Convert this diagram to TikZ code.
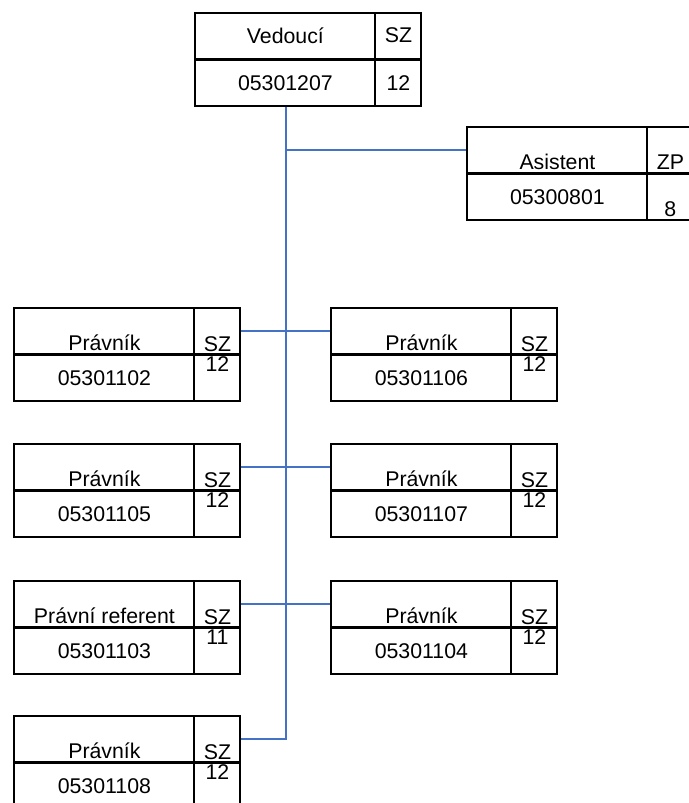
\documentclass[tikz,border=0pt]{standalone}
\usepackage{fontspec}
\setmainfont{Liberation Sans}
\definecolor{modra}{HTML}{4472C4}

\begin{document}
\begin{tikzpicture}[x=1pt, y=-1pt]
    \tikzstyle{radek} = [draw, line width=1.8pt, minimum width=226pt, minimum height=45.5pt, inner sep=0pt, anchor=north west]
    \tikzstyle{cara} = [line width=1.8pt]
    \tikzstyle{popis} = [inner sep=0pt, font=\fontsize{21.3}{25}\selectfont]
    \tikzstyle{spoj} = [draw=modra, line width=2pt]
    \useasboundingbox (0,0) rectangle (688,803);
    % vedouci
    \node[radek] (ved-h) at (194,12) {};
    \node[radek] (ved-d) at (ved-h.south west) {};
    \draw[cara] ([xshift=181pt]ved-h.north west) -- ([xshift=181pt]ved-d.south west);
    \node[popis] (ved-n) at ([xshift=-22.5pt]ved-h.center) {Vedoucí};
    \node[popis] (ved-t) at ([xshift=90.5pt]ved-h.center) {SZ};
    \node[popis] (ved-k) at ([xshift=-22.5pt]ved-d.center) {05301207};
    \node[popis] (ved-g) at ([xshift=90.5pt]ved-d.center) {12};
    % asistent
    \node[radek] (asi-h) at (466,126) {};
    \node[radek] (asi-d) at (asi-h.south west) {};
    \draw[cara] ([xshift=181pt]asi-h.north west) -- ([xshift=181pt]asi-d.south west);
    \node[popis, anchor=base] (asi-n) at ([xshift=-22.5pt, yshift=4pt]asi-h.south) {Asistent};
    \node[popis, anchor=base] (asi-t) at ([xshift=90.5pt, yshift=4pt]asi-h.south) {ZP};
    \node[popis] (asi-k) at ([xshift=-22.5pt]asi-d.center) {05300801};
    \node[popis, anchor=base] (asi-g) at ([xshift=90.5pt, yshift=4pt]asi-d.south) {8};
    % pravnici
    \foreach \jm/\x/\y/\nazev/\kod/\tr in {
        p02/13/307/Právník/05301102/12,
        p06/330/307/Právník/05301106/12,
        p05/13/443/Právník/05301105/12,
        p07/330/443/Právník/05301107/12,
        p03/13/580/Právní referent/05301103/11,
        p04/330/580/Právník/05301104/12,
        p08/13/715/Právník/05301108/12} {
      \node[radek] (\jm-h) at (\x,\y) {};
      \node[radek] (\jm-d) at (\jm-h.south west) {};
      \draw[cara] ([xshift=181pt]\jm-h.north west) -- ([xshift=181pt]\jm-d.south west);
      \node[popis, anchor=base] (\jm-n) at ([xshift=-22.5pt, yshift=4pt]\jm-h.south) {\nazev};
      \node[popis, anchor=base] (\jm-t) at ([xshift=90.5pt, yshift=3pt]\jm-h.south) {SZ};
      \node[popis, anchor=north] (\jm-g) at ([xshift=90.5pt, yshift=-2pt]\jm-d.north) {\tr};
      \node[popis] (\jm-k) at ([xshift=-22.5pt]\jm-d.center) {\kod};
    }
    % spojnice
    \coordinate (kmen) at ([xshift=-22pt]ved-d.south);
    \draw[spoj] (kmen) |- (p08-h.east);
    \draw[spoj] (kmen |- asi-h.west) -- (asi-h.west);
    \draw[spoj] (p02-h.east) -- (p06-h.west);
    \draw[spoj] (p05-h.east) -- (p07-h.west);
    \draw[spoj] (p03-h.east) -- (p04-h.west);
\end{tikzpicture}
\end{document}
